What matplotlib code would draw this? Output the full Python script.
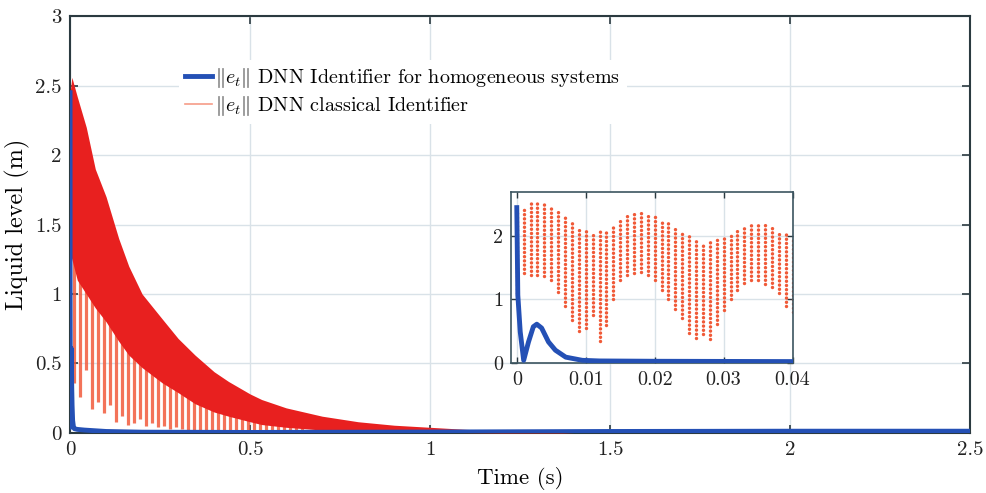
import matplotlib.pyplot as plt
import numpy as np
from matplotlib.lines import Line2D

plt.rcParams['font.family'] = 'cmr10'
plt.rcParams['mathtext.fontset'] = 'cm'
plt.rcParams['axes.formatter.use_mathtext'] = True

# ---------------- data ----------------
# blue: ||e_t|| DNN identifier for homogeneous systems
blue_t = [0, 0.00015, 0.0005, 0.001, 0.0017, 0.0024, 0.0029, 0.0036, 0.0046,
          0.0056, 0.0071, 0.0095, 0.012, 0.02, 0.04, 0.1, 0.2, 0.5, 1.0, 1.5, 2.0, 2.5]
blue_y = [2.45, 1.07, 0.49, 0.04, 0.33, 0.57, 0.61, 0.55, 0.33,
          0.20, 0.09, 0.04, 0.03, 0.025, 0.02, 0.01, 0.005, 0.003, 0.006, 0.01, 0.012, 0.012]

# red (main plot): dense band between an upper and a lower envelope
band_t = [0, 0.005, 0.02, 0.045, 0.07, 0.1, 0.135, 0.163, 0.2, 0.256, 0.3, 0.347,
          0.4, 0.44, 0.5, 0.532, 0.6, 0.7, 0.8, 0.9, 1.0, 1.1, 1.2, 1.4, 2.5]
band_hi = [2.45, 2.56, 2.42, 2.2, 1.9, 1.7, 1.4, 1.2, 1.0, 0.82, 0.68, 0.56,
           0.44, 0.37, 0.28, 0.24, 0.18, 0.12, 0.08, 0.055, 0.04, 0.025, 0.015, 0.0, 0.0]
band_lo = [1.3, 1.25, 1.1, 1.0, 0.9, 0.8, 0.66, 0.56, 0.47, 0.36, 0.29, 0.21,
           0.15, 0.12, 0.08, 0.06, 0.04, 0.02, 0.01, 0.006, 0.004, 0.002, 0.0, 0.0, 0.0]

# red (main plot): downward spikes below the band
spike_t = [0.012, 0.028, 0.045, 0.062, 0.078, 0.095, 0.112, 0.128, 0.145, 0.162,
           0.178, 0.195, 0.212, 0.228, 0.245, 0.262, 0.278, 0.295, 0.312, 0.328,
           0.345, 0.362, 0.378, 0.395, 0.412, 0.428, 0.445, 0.462, 0.478, 0.495,
           0.512, 0.528, 0.545, 0.562, 0.578, 0.595, 0.612, 0.628, 0.645]
spike_lo = [0.36, 0.26, 0.45, 0.17, 0.22, 0.14, 0.20, 0.08, 0.12, 0.06,
            0.07, 0.10, 0.05, 0.07, 0.04, 0.05, 0.03, 0.04, 0.03, 0.02,
            0.02, 0.02, 0.01, 0.01, 0.01, 0.01, 0.01, 0.0, 0.0, 0.0,
            0.0, 0.0, 0.0, 0.0, 0.0, 0.0, 0.0, 0.0, 0.0]
spike_hi = [2.3, 2.2, 2.0, 1.85, 1.7, 1.55, 1.42, 1.32, 1.22, 1.12,
            1.05, 0.97, 0.9, 0.84, 0.78, 0.72, 0.67, 0.62, 0.58, 0.54,
            0.5, 0.46, 0.43, 0.4, 0.37, 0.35, 0.32, 0.3, 0.28, 0.26,
            0.24, 0.22, 0.21, 0.2, 0.18, 0.17, 0.16, 0.15, 0.14]

# red (inset): one dotted column per fast oscillation
col_t = [0.000, 0.001, 0.002, 0.003, 0.004, 0.005, 0.006, 0.007, 0.008, 0.009,
         0.010, 0.011, 0.012, 0.013, 0.014, 0.015, 0.016, 0.017, 0.018, 0.019,
         0.020, 0.021, 0.022, 0.023, 0.024, 0.025, 0.026, 0.027, 0.028, 0.029,
         0.030, 0.031, 0.032, 0.033, 0.034, 0.035, 0.036, 0.037, 0.038, 0.039, 0.040]
col_hi = [2.42, 2.48, 2.53, 2.57, 2.55, 2.47, 2.43, 2.33, 2.22, 2.15,
          2.10, 2.06, 2.08, 2.10, 2.18, 2.27, 2.32, 2.37, 2.40, 2.37,
          2.33, 2.27, 2.20, 2.14, 2.05, 2.00, 1.95, 1.87, 1.92, 1.97,
          2.00, 2.05, 2.10, 2.16, 2.21, 2.21, 2.18, 2.13, 2.08, 2.05, 1.97]
col_lo = [1.10, 1.42, 1.39, 1.39, 1.37, 1.30, 1.12, 0.90, 0.68, 0.50,
          0.55, 0.75, 0.35, 0.60, 1.00, 1.30, 1.39, 1.42, 1.44, 1.38,
          1.31, 1.15, 1.00, 0.85, 0.70, 0.47, 0.40, 0.45, 0.38, 0.62,
          0.84, 1.00, 1.15, 1.26, 1.31, 1.30, 1.25, 1.20, 1.10, 0.89, 0.81]

blue = '#2450b5'
red = '#e8201f'
orange = '#f05a38'
grid_c = '#d9e2e8'
spine_c = '#2b3a40'

fig = plt.figure(figsize=(9.87, 4.93), dpi=100)
ax = fig.add_axes([0.071, 0.122, 0.912, 0.845])

ax.vlines(spike_t, spike_lo, spike_hi, color='#f25a3c', lw=2.3, alpha=0.85, zorder=2)
ax.fill_between(band_t, band_lo, band_hi, color=red, lw=0, zorder=3)
ax.plot(blue_t, blue_y, color=blue, lw=3.5, zorder=4, solid_joinstyle='round')

ax.set_xlim(0, 2.5)
ax.set_ylim(0, 3)
ax.set_xticks([0, 0.5, 1, 1.5, 2, 2.5])
ax.set_xticklabels(['0', '0.5', '1', '1.5', '2', '2.5'])
ax.set_yticks([0, 0.5, 1, 1.5, 2, 2.5, 3])
ax.set_yticklabels(['0', '0.5', '1', '1.5', '2', '2.5', '3'])
ax.grid(True, color=grid_c, lw=1)
ax.set_axisbelow(True)
ax.tick_params(direction='in', top=True, right=True, length=6, width=1.2,
               labelsize=15, color=spine_c, labelcolor='#222222', pad=6)
for s in ax.spines.values():
    s.set_color(spine_c)
    s.set_linewidth(1.5)
ax.set_xlabel('Time (s)', fontsize=16.5, labelpad=6)
ax.set_ylabel('Liquid level (m)', fontsize=17.5, labelpad=4)

handles = [Line2D([], [], color=blue, lw=3.5),
           Line2D([], [], color=orange, lw=1.2, alpha=0.6)]
labels = [r'$\|e_t\|$ DNN Identifier for homogeneous systems',
          r'$\|e_t\|$ DNN classical Identifier']
leg = ax.legend(handles, labels, loc='upper left', bbox_to_anchor=(0.11, 0.92),
                fontsize=14.5, frameon=True, fancybox=False, handlelength=1.35,
                handletextpad=0.15, borderpad=0.3, labelspacing=0.2)
leg.get_frame().set_edgecolor('none')
leg.get_frame().set_facecolor('white')
leg.get_frame().set_alpha(1)

# inset
axi = fig.add_axes([0.518, 0.264, 0.285, 0.347])
axi.vlines(col_t, col_lo, col_hi, color=orange, lw=2.5,
           linestyles=[(0, (0.01, 1.2))], capstyle='round', zorder=2)
axi.plot(blue_t, blue_y, color=blue, lw=3.5, zorder=3, solid_joinstyle='round')
axi.set_xlim(-0.0008, 0.04)
axi.set_ylim(0, 2.7)
axi.set_xticks([0, 0.01, 0.02, 0.03, 0.04])
axi.set_xticklabels(['0', '0.01', '0.02', '0.03', '0.04'])
axi.set_yticks([0, 1, 2])
axi.set_yticklabels(['0', '1', '2'])
axi.grid(True, color=grid_c, lw=1)
axi.set_axisbelow(True)
axi.tick_params(direction='in', top=True, right=True, length=4, width=1,
                labelsize=14.5, color=spine_c, labelcolor='#222222', pad=6)
for s in axi.spines.values():
    s.set_color('#3c5560')
    s.set_linewidth(1.2)

fig.savefig('out.png', dpi=100)
